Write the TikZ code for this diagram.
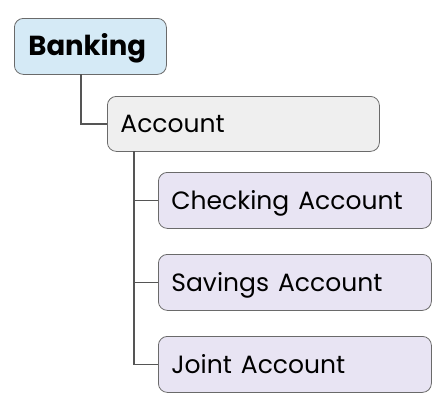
\documentclass[tikz,border=0pt]{standalone}
\usepackage{fontspec}
\setmainfont{Poppins}
\definecolor{rootfill}{HTML}{D5EAF6}
\definecolor{midfill}{HTML}{EFEFEF}
\definecolor{leaffill}{HTML}{E8E4F3}
\definecolor{edge}{HTML}{6A6A6A}
\definecolor{conn}{HTML}{555555}
\newcommand{\lbl}{\fontsize{25}{28}\selectfont\spaceskip=9pt\relax}
\begin{document}
\begin{tikzpicture}[x=1pt,y=-1pt,
  box/.style={draw=edge, line width=0.8pt, rounded corners=9pt, inner sep=0pt, anchor=north west, align=left, text depth=0pt},
  conn/.style={draw=conn, line width=1.3pt}]
\useasboundingbox (0,0) rectangle (443,407);
\node[box, fill=rootfill, minimum width=152pt, minimum height=56pt, text width=152pt, text height=19pt] (root) at (14,18) {\hspace{14pt}\fontsize{27.5}{30}\selectfont\bfseries Banking};
\node[box, fill=midfill, minimum width=272pt, minimum height=55pt, text width=272pt, text height=17.5pt] (acc) at (107,96) {\hspace{13pt}\lbl Account};
\node[box, fill=leaffill, minimum width=273pt, minimum height=56pt, text width=273pt, text height=17.5pt] (chk) at (158,172) {\hspace{13pt}\lbl Checking Account};
\node[box, fill=leaffill, minimum width=273pt, minimum height=56pt, text width=273pt, text height=17.5pt] (sav) at (158,254) {\hspace{13pt}\lbl Savings Account};
\node[box, fill=leaffill, minimum width=273pt, minimum height=56pt, text width=273pt, text height=17.5pt] (joi) at (158,336) {\hspace{13pt}\lbl Joint Account};
\coordinate (rb) at (81,74);
\coordinate (ab) at (134,151);
\draw[conn] (rb) |- (acc.west);
\draw[conn] (ab) |- (joi.west);
\draw[conn] (ab |- chk.west) -- (chk.west);
\draw[conn] (ab |- sav.west) -- (sav.west);
\end{tikzpicture}
\end{document}
